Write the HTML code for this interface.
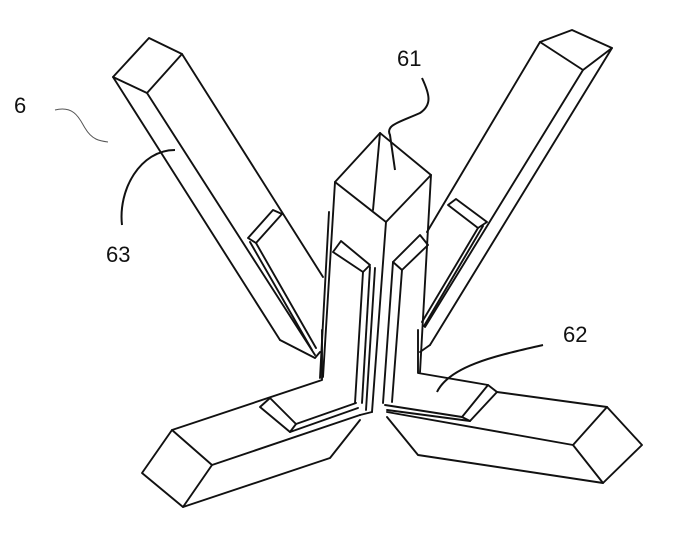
<!DOCTYPE html>
<html><head><meta charset="utf-8"><style>
html,body{margin:0;padding:0;background:#fff}
svg{display:block}
text{font-family:"Liberation Sans",sans-serif;font-size:22px;fill:#111}
</style></head><body>
<svg width="691" height="545" viewBox="0 0 691 545" xmlns="http://www.w3.org/2000/svg">
<g fill="none" stroke="#111" stroke-width="1.9" stroke-linejoin="round" stroke-linecap="round">
<polygon points="113,77 149,38 182,54 147,93"/>
<line x1="113" y1="77" x2="280" y2="340"/>
<line x1="147" y1="93" x2="315" y2="355"/>
<line x1="182" y1="54" x2="323" y2="277"/>
<polyline points="280,340 315,358 320,352"/>
<polygon points="248,238 273,210 282,214 256,243"/>
<line x1="256" y1="243" x2="316" y2="348"/>
<line x1="250" y1="242" x2="312" y2="350"/>
<polygon points="540,42 572,30 612,48 583,70"/>
<line x1="540" y1="42" x2="427" y2="232"/>
<line x1="583" y1="70" x2="425" y2="327"/>
<line x1="612" y1="48" x2="430" y2="345"/>
<polyline points="430,345 420,352"/>
<polygon points="448,205 456,199 487,222 478,228"/>
<line x1="478" y1="228" x2="422" y2="322"/>
<line x1="483" y1="226" x2="424" y2="326"/>
<polygon points="380,133 431,175 386,222 335,182"/>
<line x1="380" y1="133" x2="373" y2="210"/>
<line x1="335" y1="182" x2="323" y2="377"/>
<line x1="386" y1="222" x2="372" y2="412"/>
<line x1="431" y1="175" x2="420" y2="372"/>
<line x1="329" y1="212" x2="320" y2="378"/>
<polygon points="333,252 341,241 370,265 363,272"/>
<line x1="363" y1="272" x2="355" y2="403"/>
<line x1="370" y1="267" x2="362" y2="403"/>
<line x1="375" y1="268" x2="366" y2="410"/>
<polygon points="393,262 420,235 428,245 402,270"/>
<line x1="393" y1="262" x2="383" y2="403"/>
<line x1="402" y1="270" x2="392" y2="402"/>
<polyline points="322,330 322,380 172,430"/>
<polygon points="142,473 172,430 212,465 183,507"/>
<line x1="212" y1="465" x2="360" y2="415"/>
<polyline points="183,507 330,458 360,420"/>
<polygon points="260,407 270,398 296,424 290,432"/>
<line x1="290" y1="432" x2="358" y2="408"/>
<line x1="296" y1="424" x2="356" y2="403"/>
<line x1="360" y1="415" x2="372" y2="412"/>
<polyline points="418,330 418,373 488,385"/>
<polygon points="573,445 607,407 642,445 603,483"/>
<line x1="607" y1="407" x2="497" y2="392"/>
<line x1="573" y1="445" x2="387" y2="412"/>
<polyline points="603,483 418,455 387,417"/>
<polygon points="488,385 497,392 470,421 462,417"/>
<line x1="462" y1="417" x2="385" y2="405"/>
<line x1="470" y1="421" x2="387" y2="410"/>
</g>
<g fill="none" stroke="#111" stroke-width="2">
<path d="M55,110 C75,105 80,120 85,128 C92,140 100,141 108,142" stroke-width="1" stroke="#555"/>
<path d="M175,150 C140,150 118,190 122,225"/>
<path d="M422,78 C430,95 432,105 420,113 C400,122 385,125 390,135 L395,170"/>
<path d="M543,345 C500,355 450,365 437,392"/>
</g>
<text x="14" y="113">6</text>
<text x="397" y="66">61</text>
<text x="106" y="262">63</text>
<text x="563" y="342">62</text>
</svg>
</body></html>
